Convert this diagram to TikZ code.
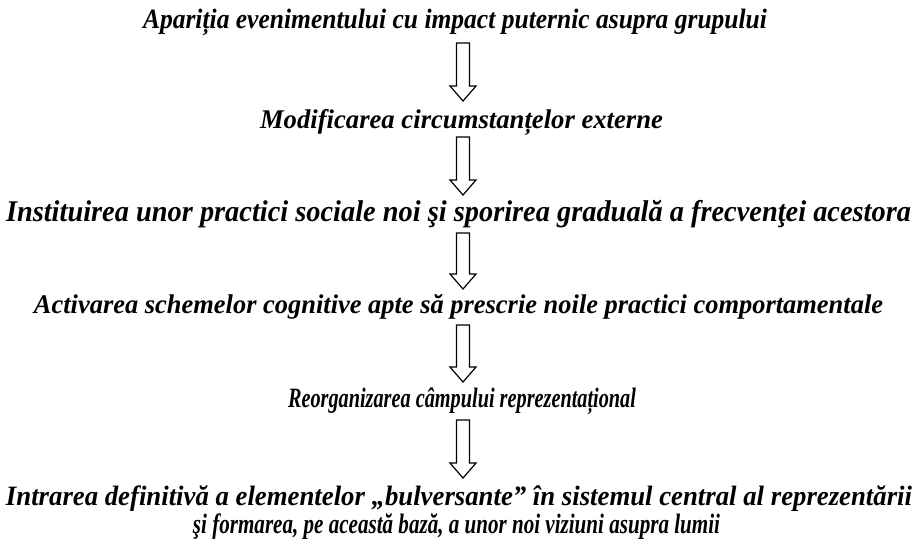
\documentclass[tikz,border=0pt]{standalone}
\usepackage{fontspec}
\usepackage{graphicx}
\setmainfont{Liberation Serif}
\newcommand\fitto[2]{\setbox0=\hbox{#2}\scalebox{\fpeval{(#1)/(\the\wd0)}}[1]{\box0}}
\tikzset{
  lbl/.style={anchor=base, inner sep=0pt, font=\fontsize{27}{30}\selectfont\bfseries\itshape},
  cnd/.style={anchor=base, inner sep=0pt, font=\fontsize{28}{32}\selectfont\bfseries\itshape},
  big/.style={anchor=base, inner sep=0pt, font=\fontsize{30}{32}\selectfont\bfseries\itshape},
  blk/.style={draw=black, line width=1.2pt, fill=white, line join=miter}
}
\newcommand\barrow[3]{%
  \coordinate (#1t) at (463,#2);
  \coordinate (#1b) at (463,#3);
  \draw[blk] (456.5,#2) -- (469.5,#2) -- (469.5,{#3-15}) -- (476,{#3-15}) -- (#1b) -- (450,{#3-15}) -- (456.5,{#3-15}) -- cycle;}
\begin{document}
\begin{tikzpicture}[x=1pt,y=-1pt]
\useasboundingbox (0,0) rectangle (918,542);
\node[cnd] (l1) at (455,28) {\fitto{624}{Apariția evenimentului cu impact puternic asupra grupului}};
\node[lbl] (l2) at (461.5,128) {\fitto{403}{Modificarea circumstanțelor externe}};
\node[big] (l3) at (458.5,221) {\fitto{905}{Instituirea unor practici sociale noi şi sporirea graduală a frecvenţei acestora}};
\node[lbl] (l4) at (458.5,313) {\fitto{849}{Activarea schemelor cognitive apte să prescrie noile practici comportamentale}};
\node[cnd] (l5) at (462,407) {\fitto{348}{Reorganizarea câmpului reprezentațional}};
\node[cnd] (l6a) at (459,505) {\fitto{906}{Intrarea definitivă a elementelor „bulversante” în sistemul central al reprezentării}};
\node[cnd] (l6b) at (456.5,533) {\fitto{527}{şi formarea, pe această bază, a unor noi viziuni asupra lumii}};
\barrow{a1}{43}{101}
\barrow{a2}{137}{195}
\barrow{a3}{233}{289}
\barrow{a4}{325}{382}
\barrow{a5}{420}{478}
\end{tikzpicture}
\end{document}
